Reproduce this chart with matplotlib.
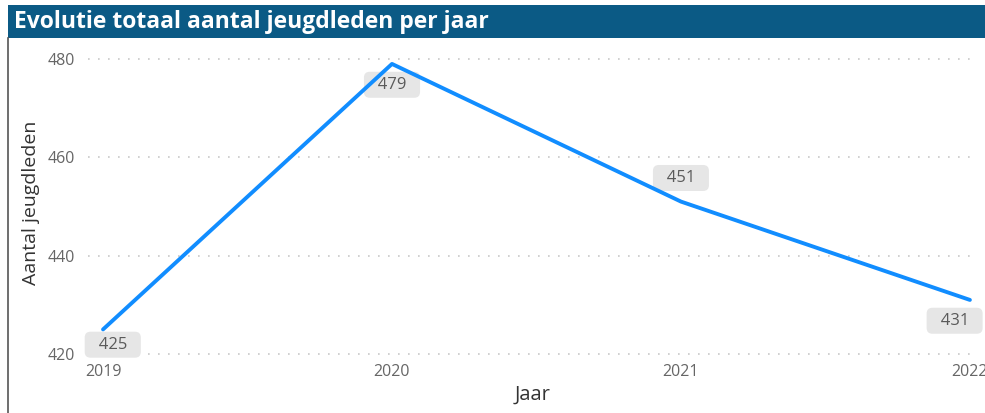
import matplotlib.pyplot as plt
from matplotlib.patches import Rectangle
from matplotlib.lines import Line2D

jaren = [2019, 2020, 2021, 2022]
aantal = [425, 479, 451, 431]
yticks = [420, 440, 460, 480]
# label offsets in points (dx, dy) relative to each data point
label_offsets = [(7, -11), (0, -15), (0, 17), (-11, -15)]

W, H = 985, 413
fig = plt.figure(figsize=(W / 100, H / 100), dpi=100)
fig.patch.set_facecolor("white")

# title bar
fig.patches.append(Rectangle((8 / W, 1 - 38 / H), 1 - 8 / W, 33 / H,
                             transform=fig.transFigure, facecolor="#0b5a85",
                             edgecolor="none", zorder=0))
fig.text(14 / W, 1 - 21.5 / H, "Evolutie totaal aantal jeugdleden per jaar",
         color="white", fontsize=16.5, fontweight="bold", va="center", ha="left",
         family="Open Sans")
# left border
fig.lines.append(Line2D([8 / W, 8 / W], [0, 1 - 38 / H], transform=fig.transFigure,
                        color="#555555", linewidth=1.2))

ax = fig.add_axes([88 / W, 1 - 360 / H, (978 - 88) / W, (360 - 45) / H])
ax.plot(jaren, aantal, color="#118dff", linewidth=2.8, solid_capstyle="round",
        clip_on=False, zorder=5)

ax.set_xlim(2018.948, 2022.028)
ax.set_ylim(418.78, 482.85)
ax.set_yticks(yticks)
ax.set_xticks(jaren)
ax.set_xticklabels([str(j) for j in jaren])
ax.grid(axis="y", color="#c8c8c8", linestyle=(0, (1, 5)), linewidth=1.2)
ax.grid(axis="x", visible=False)
for s in ax.spines.values():
    s.set_visible(False)
ax.tick_params(length=0, labelsize=11.5, labelcolor="#666666", pad=3)
ax.tick_params(axis="y", pad=9)
for lbl in ax.get_xticklabels() + ax.get_yticklabels():
    lbl.set_family("Open Sans")

ax.set_xlabel("Jaar", fontsize=14.5, color="#333333", family="Open Sans", labelpad=3)
ax.set_ylabel("Aantal jeugdleden", fontsize=14, color="#333333", family="Open Sans",
              labelpad=6)

for x, y, (dx, dy) in zip(jaren, aantal, label_offsets):
    ax.annotate("  " + str(y) + "  ", (x, y), xytext=(dx, dy), textcoords="offset points",
                ha="center", va="center", fontsize=12, color="#5a5a5a",
                family="Open Sans", annotation_clip=False, zorder=4,
                bbox=dict(boxstyle="round,pad=0.3,rounding_size=0.35",
                          facecolor="#e6e6e6", edgecolor="none"))

fig.savefig("out.png", dpi=100)
